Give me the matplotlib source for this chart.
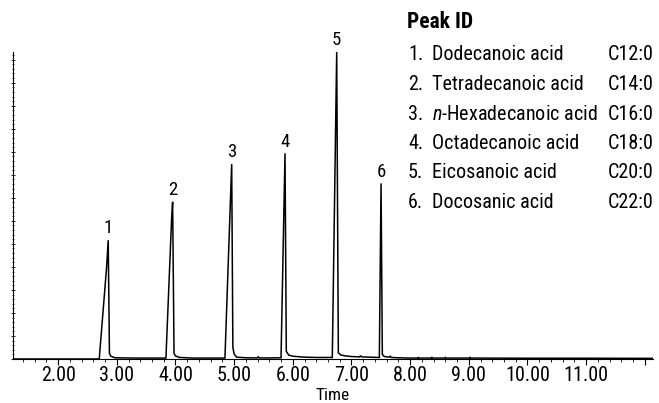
import matplotlib
matplotlib.use("Agg")
import matplotlib.pyplot as plt
from matplotlib import font_manager
from matplotlib.ticker import MultipleLocator, FixedLocator, FixedFormatter

# Chromatogram trace, vertices (time in min, signal in % of largest peak)
trace_time = [1.23, 2.70, 2.826, 2.853, 2.874, 2.90, 2.967, 3.3, 3.837,
              3.934, 3.951, 3.975, 4.0, 4.07, 4.3, 4.843,
              4.958, 4.978, 5.0, 5.043, 5.2, 5.40, 5.41, 5.43, 5.6, 5.799,
              5.867, 5.889, 5.93, 6.0, 6.2, 6.4, 6.673,
              6.748, 6.776, 6.82, 6.9, 7.0, 7.14, 7.155, 7.17, 7.3, 7.475,
              7.504, 7.526, 7.56, 7.64, 7.66, 7.68, 7.8, 8.0, 8.13, 8.14, 8.15,
              8.36, 8.37, 8.38, 8.59, 8.6, 8.61, 9.01, 9.02, 9.03, 10.0, 11.0, 12.14]
trace_signal = [0.0, 0.0, 30.0, 38.7, 1.8, 0.9, 0.4, 0.3, 0.3,
                45.8, 51.2, 1.8, 1.0, 0.5, 0.3, 0.3,
                63.5, 3.8, 1.6, 0.6, 0.4, 0.35, 0.8, 0.35, 0.35, 0.4,
                67.0, 2.5, 1.3, 0.9, 0.6, 0.5, 0.5,
                100.0, 2.0, 1.3, 1.0, 0.8, 0.7, 1.1, 0.7, 0.6, 0.5,
                57.2, 1.5, 0.8, 0.6, 0.9, 0.5, 0.4, 0.3, 0.3, 0.6, 0.3,
                0.3, 0.6, 0.3, 0.3, 0.5, 0.3, 0.3, 0.5, 0.3, 0.25, 0.25, 0.2]

# Peak apexes used for the number labels
peak_numbers = ["1", "2", "3", "4", "5", "6"]
peak_times = [2.853, 3.951, 4.958, 5.867, 6.748, 7.504]
peak_heights = [38.7, 51.2, 63.5, 67.0, 100.0, 57.2]

# Peak ID table
compound_names = ["Dodecanoic acid", "Tetradecanoic acid", "$\\it{n}$-Hexadecanoic acid",
                  "Octadecanoic acid", "Eicosanoic acid", "Docosanic acid"]
compound_codes = ["C12:0", "C14:0", "C16:0", "C18:0", "C20:0", "C22:0"]

x_ticks = [2, 3, 4, 5, 6, 7, 8, 9, 10, 11, 12]
x_tick_labels = ["2.00", "3.00", "4.00", "5.00", "6.00", "7.00", "8.00", "9.00", "10.00", "11.00", ""]

# Pick a condensed font if there is one
installed = {f.name for f in font_manager.fontManager.ttflist}
font = "DejaVu Sans"
for cand in ["Liberation Sans Narrow", "Roboto Condensed", "Open Sans Condensed", "DejaVu Sans Condensed"]:
    if cand in installed:
        font = cand
        break
plt.rcParams["font.family"] = [font, "DejaVu Sans"]
plt.rcParams["mathtext.fontset"] = "custom"
plt.rcParams["mathtext.it"] = font + ":italic"
plt.rcParams["mathtext.rm"] = font

fig = plt.figure(figsize=(6.59, 4.03), dpi=100)
ax = fig.add_axes([13 / 659, 44 / 403, 640 / 659, 307 / 403])

ax.plot(trace_time, trace_signal, color="black", lw=1.1, solid_joinstyle="miter")
ax.set_xlim(1.23, 12.14)
ax.set_ylim(0, 100)

for num, t, h in zip(peak_numbers, peak_times, peak_heights):
    ax.annotate(num, (t, h), xytext=(0, 2), textcoords="offset points",
                ha="center", va="bottom", fontsize=13.5, annotation_clip=False)

# Axes styling
for side in ["top", "right"]:
    ax.spines[side].set_visible(False)
ax.spines["left"].set_linewidth(0.8)
ax.spines["bottom"].set_linewidth(0.8)
ax.xaxis.set_major_locator(FixedLocator(x_ticks))
ax.xaxis.set_major_formatter(FixedFormatter(x_tick_labels))
ax.xaxis.set_minor_locator(MultipleLocator(0.2))
ax.tick_params(axis="x", which="major", length=4, width=0.8, labelsize=14.5, pad=1)
ax.tick_params(axis="x", which="minor", length=2, width=0.6)
ax.yaxis.set_major_locator(MultipleLocator(7.5))
ax.yaxis.set_minor_locator(MultipleLocator(1.5))
ax.tick_params(axis="y", which="major", length=2.5, width=0.6, direction="inout", labelleft=False)
ax.tick_params(axis="y", which="minor", length=1.5, width=0.5, direction="inout")

# x-axis title placed under the tick labels
fig.text(333 / 659, 1 - 395 / 403, "Time", fontsize=12.5, ha="center", va="center")

# Peak ID table
fig.text(407 / 659, 1 - 22 / 403, "Peak ID", fontsize=15.5, fontweight="bold", va="center")
for i, (name, code) in enumerate(zip(compound_names, compound_codes)):
    y = 1 - (55 + i * 29.5) / 403
    fig.text(408 / 659, y, f"{i + 1}.", fontsize=14.5, va="center")
    fig.text(432 / 659, y, name, fontsize=14.5, va="center")
    fig.text(608 / 659, y, code, fontsize=14.5, va="center")

plt.savefig("out.png", dpi=100)
plt.close()
